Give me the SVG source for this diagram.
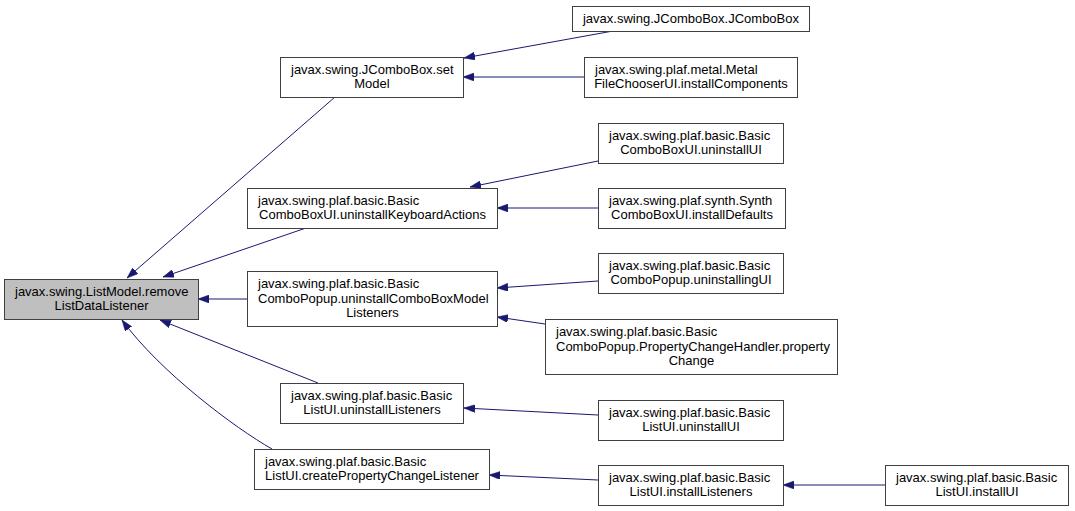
<svg xmlns="http://www.w3.org/2000/svg" width="1075" height="511" viewBox="0 0 1075 511">
<style>
.bg{fill:#ffffff}
.node rect{fill:#ffffff;stroke:#404040;stroke-width:1}
.node.root rect{fill:#bfbfbf}
.node text{font-family:"Liberation Sans",Arial,sans-serif;font-size:13px;fill:#000000}
.m{text-anchor:middle}
.s{text-anchor:start}
.edges path{fill:none;stroke:#191970;stroke-width:1;marker-end:url(#arr)}
</style>
<defs>
<marker id="arr" viewBox="0 0 11 8" refX="11" refY="4" markerWidth="11" markerHeight="8" markerUnits="userSpaceOnUse" orient="auto">
<path d="M0,0 L11,4 L0,8 z" fill="#191970" stroke="#191970" stroke-width="0.5"/>
</marker>
</defs>
<rect class="bg" x="0" y="0" width="1075" height="511"/>
<g id="edges" class="edges">
<path d="M335,97 L127,278"/>
<path d="M306,228 L163,277"/>
<path d="M247,299 L198,299"/>
<path d="M318,383 L160,320"/>
<path d="M272,449 C235,428 160,372 122,320"/>
<path d="M613,31 L464,58"/>
<path d="M584,77 L463,77"/>
<path d="M598,161 L470,187"/>
<path d="M598,208 L497,208"/>
<path d="M598,281 L497,288"/>
<path d="M545,324 L497,317"/>
<path d="M598,415 L464,408"/>
<path d="M598,480 L489,475"/>
<path d="M885,485 L783,485"/>
</g>
<g id="n0" class="node root">
<rect x="4.5" y="279.5" width="194" height="40"/>
<text class="s" x="15" y="295.5">javax.swing.ListModel.remove</text>
<text class="m" x="101.5" y="309.5">ListDataListener</text>
</g>
<g id="n1" class="node">
<rect x="280.5" y="57.5" width="183" height="40"/>
<text class="s" x="291" y="73.5">javax.swing.JComboBox.set</text>
<text class="m" x="372" y="87.5">Model</text>
</g>
<g id="n2" class="node">
<rect x="247.5" y="188.5" width="250" height="40"/>
<text class="s" x="258" y="204.5">javax.swing.plaf.basic.Basic</text>
<text class="m" x="372.5" y="218.5">ComboBoxUI.uninstallKeyboardActions</text>
</g>
<g id="n3" class="node">
<rect x="247.5" y="271.5" width="250" height="55"/>
<text class="s" x="258" y="288">javax.swing.plaf.basic.Basic</text>
<text class="s" x="258" y="302.5">ComboPopup.uninstallComboBoxModel</text>
<text class="m" x="372.5" y="317">Listeners</text>
</g>
<g id="n4" class="node">
<rect x="280.5" y="383.5" width="183" height="40"/>
<text class="s" x="291" y="399.5">javax.swing.plaf.basic.Basic</text>
<text class="m" x="372" y="413.5">ListUI.uninstallListeners</text>
</g>
<g id="n5" class="node">
<rect x="254.5" y="449.5" width="235" height="40"/>
<text class="s" x="265" y="465.5">javax.swing.plaf.basic.Basic</text>
<text class="m" x="372" y="479.5">ListUI.createPropertyChangeListener</text>
</g>
<g id="n6" class="node">
<rect x="572.5" y="6.5" width="237" height="25"/>
<text class="m" x="691" y="23">javax.swing.JComboBox.JComboBox</text>
</g>
<g id="n7" class="node">
<rect x="584.5" y="57.5" width="213" height="40"/>
<text class="s" x="595" y="73.5">javax.swing.plaf.metal.Metal</text>
<text class="m" x="691" y="87.5">FileChooserUI.installComponents</text>
</g>
<g id="n8" class="node">
<rect x="598.5" y="123.5" width="185" height="40"/>
<text class="s" x="609" y="139.5">javax.swing.plaf.basic.Basic</text>
<text class="m" x="691" y="153.5">ComboBoxUI.uninstallUI</text>
</g>
<g id="n9" class="node">
<rect x="598.5" y="188.5" width="187" height="40"/>
<text class="s" x="609" y="204.5">javax.swing.plaf.synth.Synth</text>
<text class="m" x="692" y="218.5">ComboBoxUI.installDefaults</text>
</g>
<g id="n10" class="node">
<rect x="598.5" y="253.5" width="185" height="40"/>
<text class="s" x="609" y="269.5">javax.swing.plaf.basic.Basic</text>
<text class="m" x="691" y="283.5">ComboPopup.uninstallingUI</text>
</g>
<g id="n11" class="node">
<rect x="545.5" y="319.5" width="292" height="55"/>
<text class="s" x="556" y="336">javax.swing.plaf.basic.Basic</text>
<text class="s" x="556" y="350.5">ComboPopup.PropertyChangeHandler.property</text>
<text class="m" x="691.5" y="365">Change</text>
</g>
<g id="n12" class="node">
<rect x="598.5" y="400.5" width="185" height="40"/>
<text class="s" x="609" y="416.5">javax.swing.plaf.basic.Basic</text>
<text class="m" x="691" y="430.5">ListUI.uninstallUI</text>
</g>
<g id="n13" class="node">
<rect x="598.5" y="465.5" width="185" height="40"/>
<text class="s" x="609" y="481.5">javax.swing.plaf.basic.Basic</text>
<text class="m" x="691" y="495.5">ListUI.installListeners</text>
</g>
<g id="n14" class="node">
<rect x="885.5" y="465.5" width="183" height="40"/>
<text class="s" x="896" y="481.5">javax.swing.plaf.basic.Basic</text>
<text class="m" x="977" y="495.5">ListUI.installUI</text>
</g>
</svg>
